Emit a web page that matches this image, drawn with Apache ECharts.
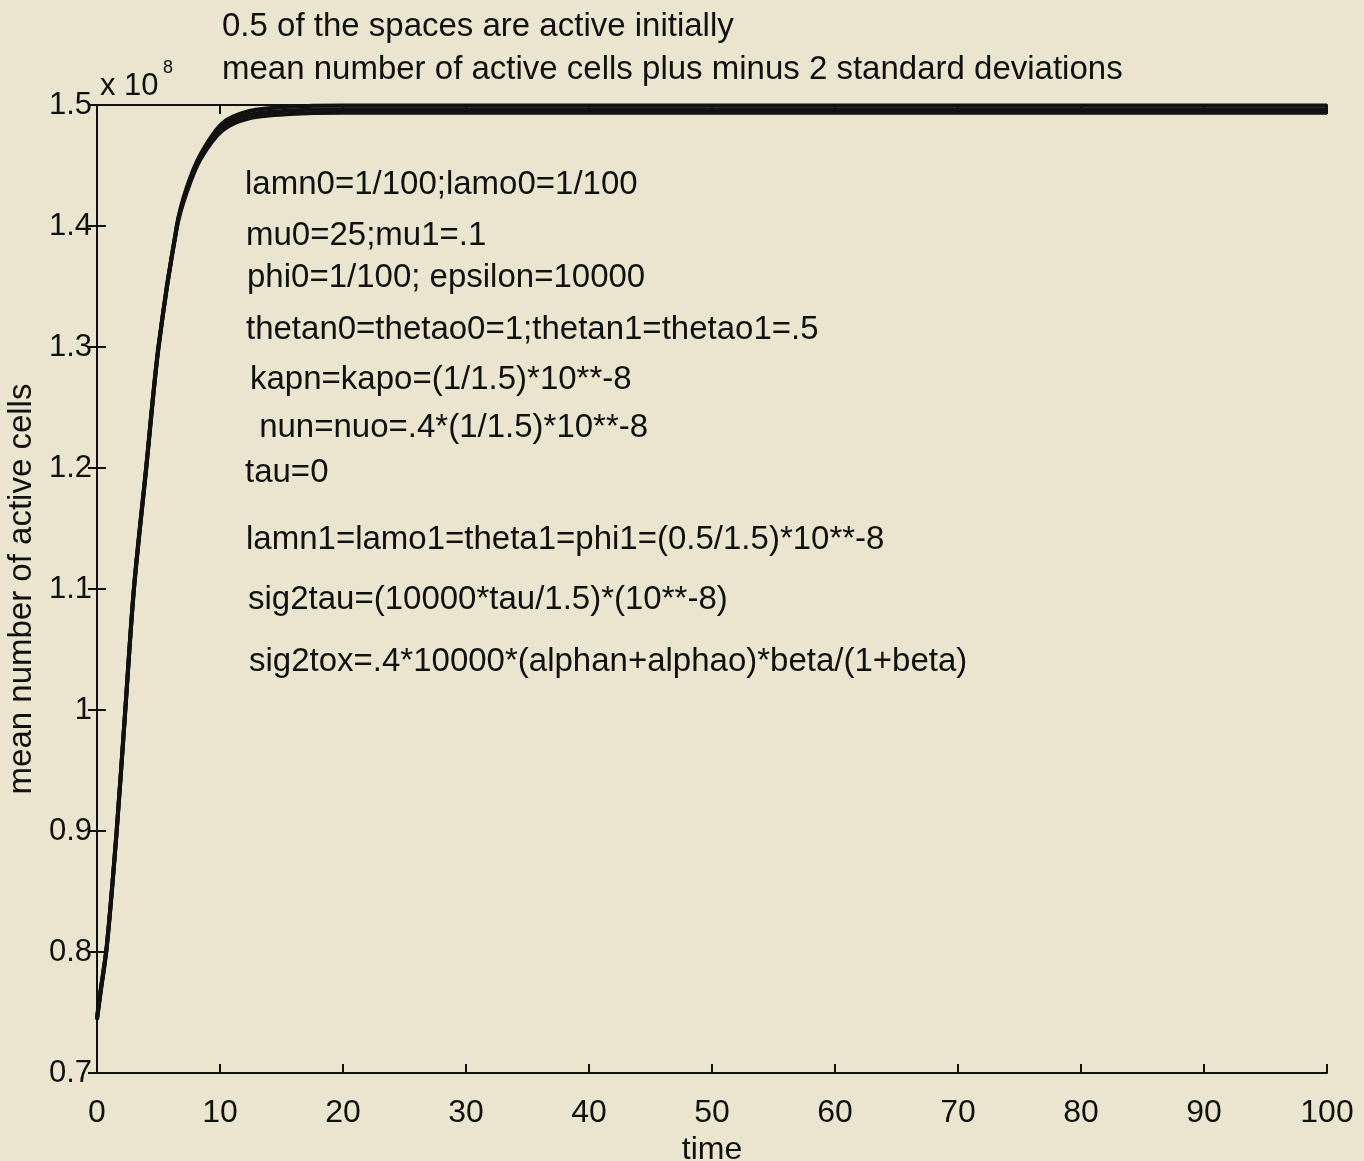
<!DOCTYPE html>
<html>
<head>
<meta charset="utf-8">
<script src="https://cdn.jsdelivr.net/npm/echarts@6/dist/echarts.min.js"></script>
<style>
html,body{margin:0;padding:0;background:#e9e5cf;}
#chart{width:1364px;height:1161px;}
</style>
</head>
<body>
<div id="chart"></div>
<script>
// Data
var timePts   = [0, 0.3, 0.8, 1.6, 2.3, 3.0, 4.0, 5.0, 6.5, 7.3, 8.4, 10.2, 12.4, 15.7, 20, 30, 40, 50, 60, 70, 80, 90, 100];
var meanVals  = [0.745, 0.768, 0.805, 0.90, 1.00, 1.10, 1.20, 1.30, 1.40, 1.43, 1.457, 1.482, 1.492, 1.4955, 1.4965, 1.4965, 1.4965, 1.4965, 1.4965, 1.4965, 1.4965, 1.4965, 1.4965];
var upperVals = [0.746, 0.769, 0.806, 0.901, 1.001, 1.101, 1.201, 1.301, 1.401, 1.432, 1.459, 1.485, 1.495, 1.4985, 1.4995, 1.4995, 1.4995, 1.4995, 1.4995, 1.4995, 1.4995, 1.4995, 1.4995];
var lowerVals = [0.744, 0.767, 0.804, 0.899, 0.999, 1.099, 1.199, 1.299, 1.399, 1.428, 1.455, 1.479, 1.489, 1.4925, 1.4935, 1.4935, 1.4935, 1.4935, 1.4935, 1.4935, 1.4935, 1.4935, 1.4935];
var titleLines = ['0.5 of the spaces are active initially', 'mean number of active cells plus minus 2 standard deviations'];
var noteLines = [
  'lamn0=1/100;lamo0=1/100',
  'mu0=25;mu1=.1',
  'phi0=1/100; epsilon=10000',
  'thetan0=thetao0=1;thetan1=thetao1=.5',
  'kapn=kapo=(1/1.5)*10**-8',
  ' nun=nuo=.4*(1/1.5)*10**-8',
  'tau=0',
  'lamn1=lamo1=theta1=phi1=(0.5/1.5)*10**-8',
  'sig2tau=(10000*tau/1.5)*(10**-8)',
  'sig2tox=.4*10000*(alphan+alphao)*beta/(1+beta)'
];
var notePos = [[245,185],[246,236],[247,278],[246,330],[250,380],[250,428],[245,473],[246,540],[248,600],[249,662]];

function pairs(xs, ys){ return xs.map(function(x,i){ return [x, ys[i]]; }); }

var FONT = '"Liberation Sans", Arial, sans-serif';
var chart = echarts.init(document.getElementById('chart'));

var graphics = [];
titleLines.forEach(function(t, i){
  graphics.push({type:'text', left:222, top:[27,70][i]-17, style:{text:t, font:'33px ' + FONT, fill:'#111'}});
});
noteLines.forEach(function(t, i){
  graphics.push({type:'text', left:notePos[i][0], top:notePos[i][1]-17, style:{text:t, font:'33px ' + FONT, fill:'#111'}});
});
graphics.push({type:'text', left:100, top:71, style:{text:'x 10', font:'31px ' + FONT, fill:'#111'}});
graphics.push({type:'text', left:163, top:59, style:{text:'8', font:'18px ' + FONT, fill:'#111'}});

var axisLine = {show:true, lineStyle:{color:'#111', width:2}};
var tickIn = {show:true, inside:true, length:9, lineStyle:{color:'#111', width:2}};

chart.setOption({
  backgroundColor:'#e9e5cf',
  animation:false,
  grid:{left:97, right:37, top:105, bottom:88, show:false, containLabel:false, outerBoundsMode:'none'},
  xAxis:[
    {type:'value', min:0, max:100, interval:10, position:'bottom',
     name:'time', nameLocation:'middle', nameGap:55,
     nameTextStyle:{fontSize:32, fontFamily:FONT, color:'#111'},
     axisLine:axisLine, axisTick:tickIn,
     axisLabel:{fontSize:32, fontFamily:FONT, color:'#111', margin:24},
     splitLine:{show:false}},
    {type:'value', min:0, max:100, interval:10, position:'top',
     axisLine:axisLine, axisTick:tickIn, axisLabel:{show:false}, splitLine:{show:false}}
  ],
  yAxis:[
    {type:'value', min:0.7, max:1.5, interval:0.1, position:'left',
     name:'mean number of active cells', nameLocation:'middle', nameGap:49, nameRotate:90,
     nameTextStyle:{fontSize:33, fontFamily:FONT, color:'#111'},
     axisLine:axisLine, axisTick:tickIn,
     axisLabel:{fontSize:31, fontFamily:FONT, color:'#111', margin:5},
     splitLine:{show:false}},
    {type:'value', min:0.7, max:1.5, interval:0.1, position:'right',
     axisLine:axisLine, axisTick:tickIn, axisLabel:{show:false}, splitLine:{show:false}}
  ],
  series:[
    {type:'line', name:'upper', data:pairs(timePts, upperVals), smooth:0.3, symbol:'none', lineStyle:{color:'#111', width:4}},
    {type:'line', name:'mean', data:pairs(timePts, meanVals), smooth:0.3, symbol:'none', lineStyle:{color:'#111', width:4}},
    {type:'line', name:'lower', data:pairs(timePts, lowerVals), smooth:0.3, symbol:'none', lineStyle:{color:'#111', width:4}}
  ],
  graphic:graphics
});
</script>
</body>
</html>
